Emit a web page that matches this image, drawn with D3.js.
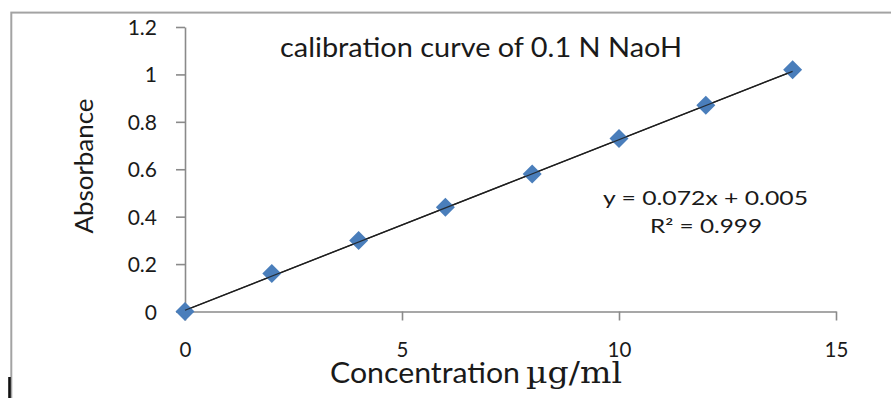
<!DOCTYPE html>
<html><head><meta charset="utf-8">
<script src="https://cdn.jsdelivr.net/npm/d3@7"></script>
<style>html,body{margin:0;padding:0;background:#fff;overflow:hidden}</style>
</head><body><svg id="c" width="891" height="398"></svg>
<script>
const concentration = [0, 2, 4, 6, 8, 10, 12, 14];
const absorbance = [0, 0.16, 0.30, 0.44, 0.58, 0.73, 0.87, 1.02];
const xTicks = [0, 5, 10, 15];
const yTicks = [0, 0.2, 0.4, 0.6, 0.8, 1, 1.2];
const trendSlope = 0.072, trendIntercept = 0.005;
const titleText = "calibration curve of 0.1 N NaoH";
const eqText = "y = 0.072x + 0.005";
const r2Text = "R\u00B2 = 0.999";
const xTitleMain = "Concentration";
const xTitleUnit = "\u00B5g/ml";
const yTitle = "Absorbance";

const svg = d3.select("#c");
const FONT = "Lato, 'Open Sans', sans-serif";

// outer chart border
svg.append("rect").attr("x", 11.3).attr("y", 12.6).attr("width", 1000).attr("height", 1000)
  .attr("fill", "none").attr("stroke", "#a3a3a3").attr("stroke-width", 2);
svg.append("rect").attr("x", 8.2).attr("y", 377).attr("width", 2.6).attr("height", 21).attr("fill", "#111");

const x = d3.scaleLinear().domain([0, 15]).range([185, 836]);
const y = d3.scaleLinear().domain([0, 1.2]).range([311.5, 27]);

const xAxis = svg.append("g").attr("transform", `translate(0,${y(0)})`)
  .call(d3.axisBottom(x).tickValues(xTicks).tickSizeInner(9).tickSizeOuter(0).tickPadding(22));
const yAxis = svg.append("g").attr("transform", `translate(${x(0)},0)`)
  .call(d3.axisLeft(y).tickValues(yTicks).tickFormat(d => String(d)).tickSizeInner(9).tickSizeOuter(0).tickPadding(19));
[xAxis, yAxis].forEach(g => {
  g.select(".domain").attr("stroke", "#8a8a8a").attr("stroke-width", 1.6);
  g.selectAll(".tick line").attr("stroke", "#8a8a8a").attr("stroke-width", 1.6);
  g.selectAll(".tick text").attr("font-family", FONT).attr("font-size", 21).attr("fill", "#1a1a1a");
});
yAxis.selectAll(".tick text").attr("dy", "0.36em");
xAxis.selectAll(".tick text").attr("font-size", 20.5);

// trendline
const x0 = d3.min(concentration), x1 = d3.max(concentration);
const trend = () => svg.append("line")
  .attr("x1", x(x0)).attr("y1", y(trendSlope * x0 + trendIntercept))
  .attr("x2", x(x1)).attr("y2", y(trendSlope * x1 + trendIntercept))
  .attr("stroke", "#1e1e1e");
trend().attr("stroke-width", 1.4);

// diamond markers
const h = 9.5;
svg.append("g").selectAll("path").data(concentration.map((c, i) => [c, absorbance[i]]))
  .join("path")
  .attr("transform", d => `translate(${x(d[0])},${y(d[1])})`)
  .attr("d", `M0,${-h}L${h},0L0,${h}L${-h},0Z`)
  .attr("fill", "#4a7ebb");

// trendline visible across markers as in reference
trend().attr("stroke-width", 1.2).attr("opacity", 0.85);

// texts
function txt(str, xx, yy, size, len, anchor) {
  return svg.append("text").attr("x", xx).attr("y", yy).attr("font-family", FONT)
    .attr("font-size", size).attr("fill", "#1a1a1a").attr("text-anchor", anchor || "start")
    .attr("textLength", len).attr("lengthAdjust", "spacingAndGlyphs").text(str);
}
txt(titleText, 280, 57, 26, 402);
txt(eqText, 603, 205, 18.5, 205);
txt(r2Text, 650, 233, 18.5, 112);
txt(xTitleMain, 330, 383, 29, 190);
svg.append("text").attr("x", 526).attr("y", 383).attr("font-family", "'DejaVu Serif', 'Liberation Serif', serif")
  .attr("font-size", 29).attr("fill", "#1a1a1a").attr("textLength", 96).attr("lengthAdjust", "spacingAndGlyphs")
  .text(xTitleUnit);
svg.append("text").attr("transform", "translate(93,166) rotate(-90)").attr("text-anchor", "middle")
  .attr("font-family", FONT).attr("font-size", 25).attr("fill", "#1a1a1a")
  .attr("textLength", 135).attr("lengthAdjust", "spacingAndGlyphs").text(yTitle);
</script></body></html>
